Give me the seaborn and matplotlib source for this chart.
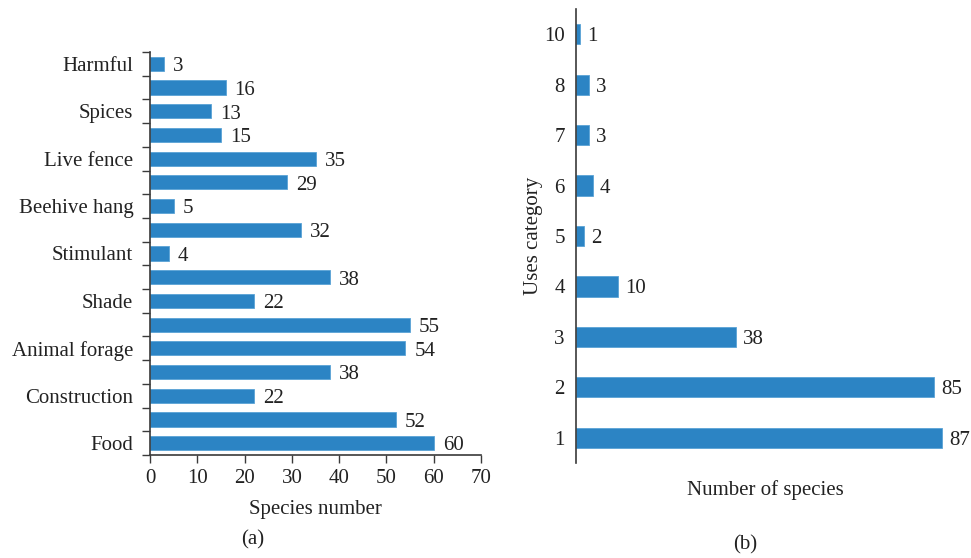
import matplotlib
matplotlib.use("Agg")
import matplotlib.pyplot as plt
import seaborn as sns
import pandas as pd
import numpy as np

sns.set_theme(style="white")
plt.rcParams['font.family'] = ['Liberation Serif', 'DejaVu Serif']

# ---- Panel (a) data, listed top to bottom ----
use_ids = [f"u{i}" for i in range(17)]
use_labels = ["Harmful", "", "Spices", "", "Live fence", "", "Beehive hang", "",
              "Stimulant", "", "Shade", "", "Animal forage", "", "Construction", "", "Food"]
species_counts = [3, 16, 13, 15, 35, 29, 5, 32, 4, 38, 22, 55, 54, 38, 22, 52, 60]
x_ticks_a = [0, 10, 20, 30, 40, 50, 60, 70]

# ---- Panel (b) data, listed top to bottom ----
uses_category = ["10", "8", "7", "6", "5", "4", "3", "2", "1"]
n_species = [1, 3, 3, 4, 2, 10, 38, 85, 87]

bar_color = "#2c84c4"
axis_color = "#3a3a3a"
text_color = "#222222"
fs = 15

fig = plt.figure(figsize=(9.71, 5.58), dpi=100)
ax1 = fig.add_axes([0.1545, 0.1846, 0.3409, 0.7222])
ax2 = fig.add_axes([0.5932, 0.1703, 0.3903, 0.8136])

df_a = pd.DataFrame({"use": use_ids, "count": species_counts})
sns.barplot(data=df_a, y="use", x="count", order=use_ids, orient="h",
            color=bar_color, width=0.6, saturation=1, ax=ax1,
            edgecolor="#5aa3d6", linewidth=0.6)
ax1.set_xlim(0, 70)
ax1.set_ylim(16.5, -0.5)
ax1.set_xticks(x_ticks_a)
ax1.set_xticklabels([str(t) for t in x_ticks_a], fontsize=fs, color=text_color)
ax1.set_yticks(np.arange(-0.5, 17, 1.0))
ax1.set_yticklabels([])
ax1.set_yticks(np.arange(17), minor=True)
ax1.set_yticklabels(use_labels, minor=True, fontsize=fs, color=text_color)
ax1.tick_params(axis="y", which="major", direction="out", length=6, width=1,
                color=axis_color, left=True)
ax1.tick_params(axis="y", which="minor", length=0, pad=12)
ax1.tick_params(axis="x", direction="out", length=6, width=1, color=axis_color,
                bottom=True, pad=4)
for s in ["top", "right"]:
    ax1.spines[s].set_visible(False)
for s in ["left", "bottom"]:
    ax1.spines[s].set_color(axis_color)
    ax1.spines[s].set_linewidth(1.2)
ax1.set_ylabel("")
ax1.set_xlabel("Species number", fontsize=fs, color=text_color, labelpad=9)
for i, v in enumerate(species_counts):
    ax1.text(v + 1.9, i + 0.12, str(v), va="center", ha="left", fontsize=fs,
             color=text_color)

df_b = pd.DataFrame({"cat": uses_category, "n": n_species})
sns.barplot(data=df_b, y="cat", x="n", order=uses_category, orient="h",
            color=bar_color, width=0.4, saturation=1, ax=ax2,
            edgecolor="#5aa3d6", linewidth=0.6)
ax2.set_xlim(0, 90)
ax2.set_ylim(8.5, -0.5)
ax2.set_xticks([])
ax2.tick_params(axis="y", length=0, pad=8, labelsize=fs, labelcolor=text_color)
for s in ["top", "right", "bottom"]:
    ax2.spines[s].set_visible(False)
ax2.spines["left"].set_color(axis_color)
ax2.spines["left"].set_linewidth(1.2)
ax2.set_ylabel("Uses category", fontsize=fs, color=text_color, labelpad=1)
ax2.set_xlabel("Number of species", fontsize=fs, color=text_color, labelpad=12)
for i, v in enumerate(n_species):
    ax2.text(v + 1.7, i + 0.05, str(v), va="center", ha="left", fontsize=fs,
             color=text_color)

fig.text(253 / 971, 1 - 540 / 558, "(a)", ha="center", va="center", fontsize=fs,
         color=text_color)
fig.text(745 / 971, 1 - 545 / 558, "(b)", ha="center", va="center", fontsize=fs,
         color=text_color)

fig.savefig("out.png", dpi=100)
